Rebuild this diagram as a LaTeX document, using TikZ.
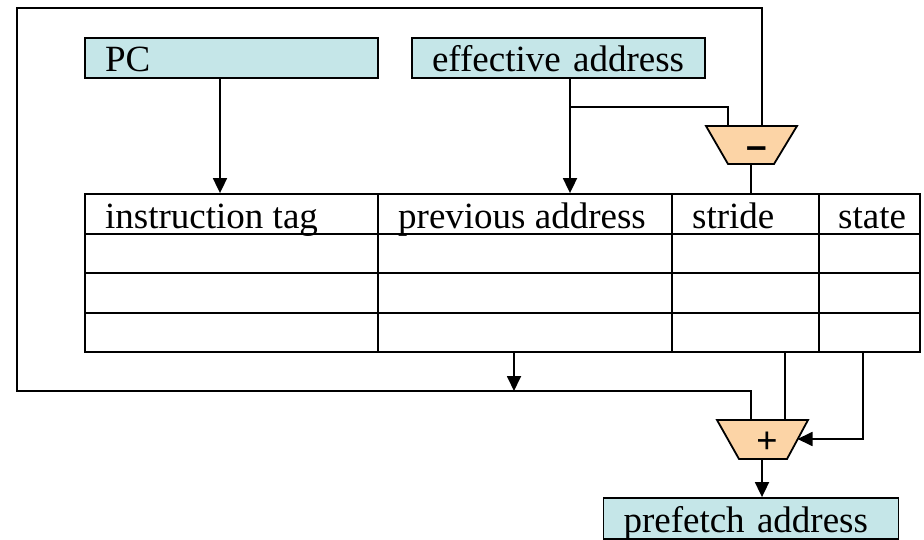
\documentclass[tikz,border=0pt]{standalone}
\usepackage{fontspec}
\setmainfont{Liberation Serif}
\newfontfamily\signfont{Liberation Sans}
\usetikzlibrary{arrows.meta,calc}
\definecolor{regfill}{RGB}{197,230,232}
\definecolor{alufill}{RGB}{252,212,166}
\begin{document}
\begin{tikzpicture}[x=1pt,y=-1pt,
  wire/.style={line width=1.8pt},
  arr/.style={wire,-{Triangle[length=15pt,width=14pt]}},
  bigtext/.style={font=\fontsize{37}{40}\selectfont},
  regbox/.style={draw,line width=1.8pt,fill=regfill,bigtext,
    minimum height=40pt,minimum width=293pt,text width=253pt,
    inner xsep=20pt,inner ysep=0pt,align=left,text height=29pt,text depth=1pt},
  alu/.style={draw,line width=1.8pt,fill=alufill,line join=miter},
  cell/.style={anchor=base west,inner sep=0pt,bigtext},
  sign/.style={inner sep=0pt}]
\useasboundingbox (0,0) rectangle (924,540);

% registers
\node[regbox] (pc) at (231.5,58) {PC};
\node[regbox] (ea) at (558.5,58) {effective address};
\node[regbox,minimum width=295pt,minimum height=41pt,text width=255pt] (pf) at (751,518.5) {prefetch address};

% reference prediction table
\node[draw,line width=1.8pt,minimum width=835pt,minimum height=158pt,inner sep=0pt] (tbl) at (502.5,273) {};
\foreach \y in {234,273,313}
  \draw[wire] (tbl.west |- 0,\y) -- (tbl.east |- 0,\y);
\foreach \x in {378,672,819}
  \draw[wire] (\x,0 |- tbl.north) -- (\x,0 |- tbl.south);
\node[cell] (hTag) at (105,229) {instruction tag};
\node[cell] (hPrev) at (398,229) {previous address};
\node[cell] (hStride) at (692,229) {stride};
\node[cell] (hState) at (838,229) {state};

% subtractor and adder
\draw[alu] (706,126) -- (797,126) -- (774,164) -- (728,164) -- cycle;
\node[sign,font=\signfont\fontsize{37}{40}\selectfont\bfseries] (sub) at (756.5,153) {–};
\draw[alu] (717,420) -- (808,420) -- (787,459) -- (739,459) -- cycle;
\node[sign,font=\fontsize{38}{40}\selectfont\bfseries] (add) at (767.5,443) {+};

% connection points on the ALU borders
\coordinate (subA) at (728,126);
\coordinate (subB) at (762,126);
\coordinate (subOut) at (751,164);
\coordinate (addA) at (751,420);
\coordinate (addB) at (785,420);
\coordinate (addC) at (797.5,439);
\coordinate (addOut) at (762,459);

% PC and effective address into the table
\draw[arr] ([xshift=-11.5pt]pc.south) -- ([xshift=-11.5pt]pc.south |- tbl.north);
\draw[arr] ([xshift=11.5pt]ea.south) -- ([xshift=11.5pt]ea.south |- tbl.north);
\draw[wire] ([xshift=11.5pt]ea.south) ++(0,28) -| (subA);
\draw[wire] (subOut) -- (subOut |- tbl.north);

% feedback loop of the previous address
\draw[wire] (subB) |- (17,8) |- (751,391) -- (addA);
\draw[arr] (514,0 |- tbl.south) -- (514,391);

% stride and state into the adder
\draw[wire] (785,0 |- tbl.south) -- (addB);
\draw[arr] (863,0 |- tbl.south) |- (addC);
\draw[arr] (addOut) -- (pf.north -| addOut);
\end{tikzpicture}
\end{document}
